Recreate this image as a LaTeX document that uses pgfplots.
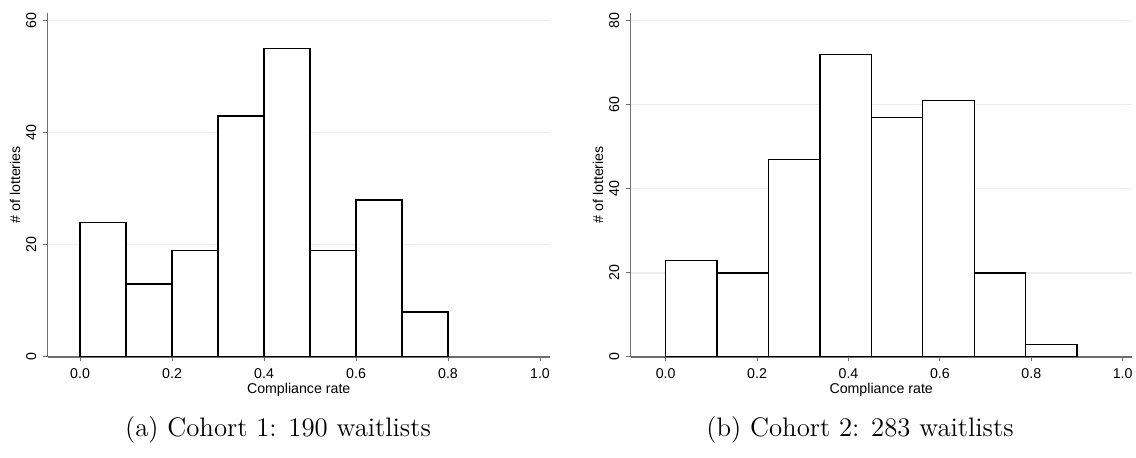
\documentclass[border=0pt]{standalone}
\usepackage{fontspec}
\newfontfamily\stfont{Liberation Sans}
\usepackage{pgfplots}
\pgfplotsset{compat=1.18}
\definecolor{gridc}{HTML}{E6EEF0}
\definecolor{axc}{HTML}{6E6E6E}
\pgfplotsset{
  statahist/.style={
    scale only axis,
    axis lines=left,
    axis line style={-, draw=axc, line width=0.55pt},
    tick align=outside,
    major tick length=2.2pt,
    tick style={draw=axc, line width=0.5pt},
    ymajorgrids,
    grid style={draw=gridc, line width=0.6pt},
    font=\stfont\fontsize{7.1}{8.5}\selectfont,
    /pgf/number format/assume math mode=true,
    xtick={0,0.2,0.4,0.6,0.8,1},
    xticklabels={0.0,0.2,0.4,0.6,0.8,1.0},
    yticklabel style={rotate=90, anchor=south},
    ylabel={\# of lotteries},
    xlabel={Compliance rate},
    xlabel style={at={(axis description cs:0.5,-0.096)}, anchor=center},
    ylabel style={at={(axis description cs:-0.065,0.5)}, anchor=center},
    ymin=0,
  }
}
\begin{document}
\begin{tikzpicture}
\path[use as bounding box] (0pt,0pt) rectangle (568pt,229pt);
\begin{axis}[statahist, at={(23.85pt,50.5pt)}, anchor=south west,
  width=251pt, height=172.15pt,
  xmin=-0.0704, xmax=1.0211, ymax=61.43, ytick={0,20,40,60}]
\addplot[ybar interval, fill=white, draw=black, line width=0.65pt] coordinates {
  (0,24) (0.1,13) (0.2,19) (0.3,43) (0.4,55) (0.5,19) (0.6,28) (0.7,8) (0.8,8)};
\end{axis}
\begin{axis}[statahist, at={(315.35pt,50.5pt)}, anchor=south west,
  width=250.5pt, height=172.15pt,
  xmin=-0.0766, xmax=1.0197, ymax=81.9, ytick={0,20,40,60,80}]
\addplot[ybar interval, fill=white, draw=black, line width=0.65pt] coordinates {
  (0,23) (0.1125,20) (0.225,47) (0.3375,72) (0.45,57) (0.5625,61) (0.675,20) (0.7875,3) (0.9,3)};
\end{axis}
\node[font=\fontsize{13.4}{16}\selectfont, anchor=base] at (139pt,10.5pt) {(a) Cohort 1: 190 waitlists};
\node[font=\fontsize{13.4}{16}\selectfont, anchor=base] at (430pt,10.5pt) {(b) Cohort 2: 283 waitlists};
\end{tikzpicture}
\end{document}
